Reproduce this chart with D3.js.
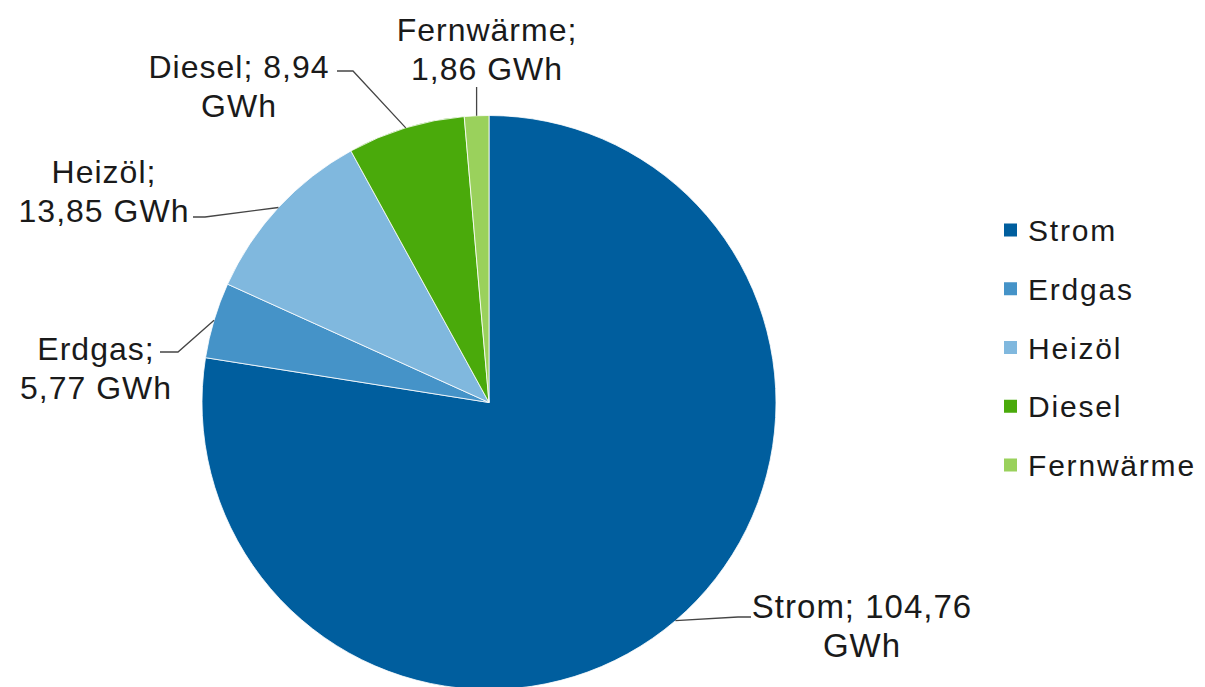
<!DOCTYPE html>
<html>
<head>
<meta charset="utf-8">
<script src="https://cdn.jsdelivr.net/npm/d3@7/dist/d3.min.js"></script>
<style>
  html, body { margin: 0; padding: 0; background: #ffffff; }
  svg { display: block; font-family: "Liberation Sans", Arial, sans-serif; }
</style>
</head>
<body>
<svg id="chart" width="1205" height="687"></svg>
<script>
// Energy consumption by carrier (GWh)
const categories = ["Strom", "Erdgas", "Heizöl", "Diesel", "Fernwärme"];
const values = [104.76, 5.77, 13.85, 8.94, 1.86];
const colors = ["#005e9e", "#4593c8", "#80b8de", "#4aaa0b", "#9ad15c"];
const unit = "GWh";

// Label placement: text centre, first baseline, leader elbow and end point
const labelLayout = [
  { cx: 862, y: 618, size: 33, split: "afterValue", elbow: [738, 617], end: [751, 617] },
  { cx: 96,  y: 360, size: 32, split: "afterName",  elbow: [178, 352], end: [160, 352] },
  { cx: 104, y: 183, size: 32, split: "afterName",  elbow: [205, 217], end: [193, 217] },
  { cx: 239, y: 78,  size: 32, split: "afterValue", elbow: [353, 71],  end: [337, 71] },
  { cx: 487, y: 41,  size: 32, split: "afterName",  elbow: null,       end: null }
];

const fmt = v => d3.format(".2f")(v).replace(".", ",");

const svg = d3.select("#chart");
const cx = 489, cy = 402.5, radius = 287;

const pie = d3.pie().sort(null).value(d => d.value);
const data = categories.map((c, i) => ({ name: c, value: values[i], color: colors[i] }));
const arcs = pie(data);
const arc = d3.arc().innerRadius(0).outerRadius(radius);

const g = svg.append("g").attr("transform", `translate(${cx},${cy})`);

g.selectAll("path.slice")
  .data(arcs)
  .join("path")
  .attr("class", "slice")
  .attr("d", arc)
  .attr("fill", d => d.data.color)
  .attr("stroke", "#ffffff")
  .attr("stroke-width", 0.8)
  .attr("stroke-linejoin", "round");

// Leader lines from slice edge to label
const edgePoint = d => {
  const a = (d.startAngle + d.endAngle) / 2;
  return [cx + radius * Math.sin(a), cy - radius * Math.cos(a)];
};

arcs.forEach((d, i) => {
  const L = labelLayout[i];
  const p = edgePoint(d);
  const pts = L.elbow ? [p, L.elbow, L.end] : [p, [p[0], L.y + 46]];
  svg.append("path")
    .attr("d", d3.line()(pts))
    .attr("fill", "none")
    .attr("stroke", "#454545")
    .attr("stroke-width", 1.3);
});

// Data labels
arcs.forEach((d, i) => {
  const L = labelLayout[i];
  const lines = L.split === "afterName"
    ? [d.data.name + ";", fmt(d.data.value) + " " + unit]
    : [d.data.name + "; " + fmt(d.data.value), unit];
  const t = svg.append("text")
    .attr("text-anchor", "middle")
    .attr("font-size", L.size)
    .attr("letter-spacing", 1)
    .attr("fill", "#1a1a1a");
  lines.forEach((s, k) => {
    t.append("tspan")
      .attr("x", L.cx)
      .attr("y", L.y + k * 38.5)
      .text(s);
  });
});

// Legend
const legendY = d3.scalePoint().domain(categories).range([230, 465]);
const legend = svg.append("g");
categories.forEach((c, i) => {
  const y = legendY(c);
  legend.append("rect")
    .attr("x", 1004).attr("y", y - 6.5)
    .attr("width", 13).attr("height", 13)
    .attr("fill", colors[i]);
  legend.append("text")
    .attr("x", 1028).attr("y", y + 11)
    .attr("font-size", 30)
    .attr("letter-spacing", 1.8)
    .attr("fill", "#1a1a1a")
    .text(c);
});
</script>
</body>
</html>
